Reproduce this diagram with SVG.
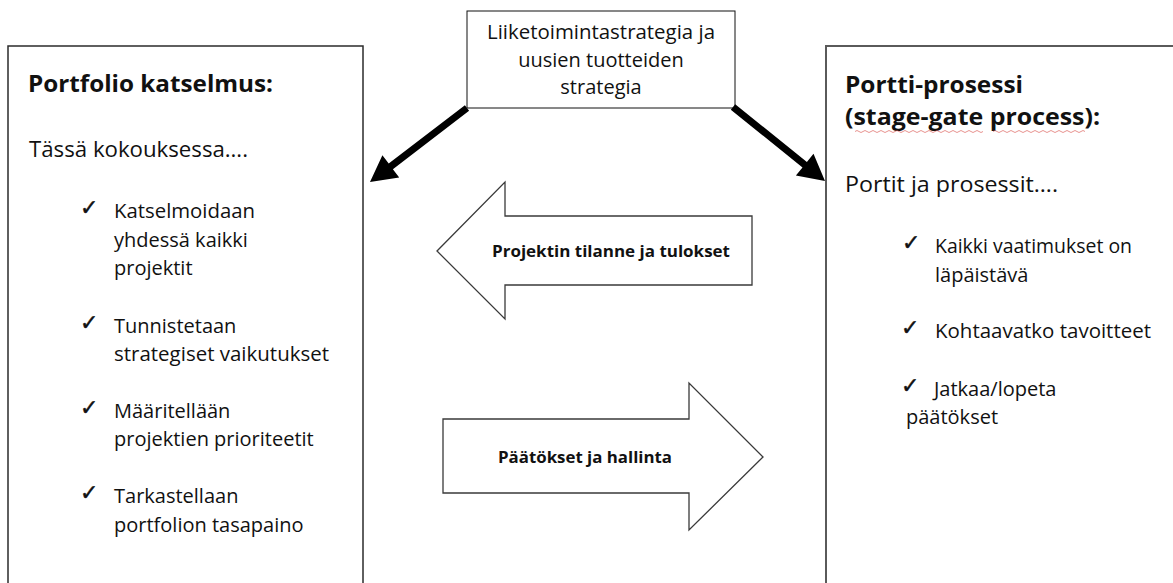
<svg xmlns="http://www.w3.org/2000/svg" width="1173" height="583" viewBox="0 0 1173 583">
  <style>
    text { font-family: "Open Sans", "Liberation Sans", sans-serif; fill: #111; }
    .h { font-weight: bold; font-size: 24px; }
    .lead { font-size: 21px; }
    .item { font-size: 20px; }
    .top { font-size: 20px; text-anchor: middle; }
    .lbl { font-weight: bold; font-size: 16.5px; }
    .chk { font-family: "DejaVu Sans", sans-serif; font-size: 22px; stroke: #111; stroke-width: 0.5; }
    .box { fill: #fff; }
    .flow { fill: #fff; stroke: #3a3a3a; stroke-width: 1.3; stroke-linejoin: miter; }
    .thick { fill: #000; }
    .spell { fill: none; stroke: #d9534f; stroke-width: 0.8; opacity: 0.8; }
  </style>

  <rect width="1173" height="583" fill="#fff"/>

  <!-- Portfolio review panel -->
  <g id="portfolio">
    <rect class="box" x="8" y="46" width="355" height="560" stroke="#2b2b2b" stroke-width="1.5"/>
    <text class="h" x="28" y="92" textLength="245" lengthAdjust="spacingAndGlyphs">Portfolio katselmus:</text>
    <text class="lead" x="29" y="157" textLength="219" lengthAdjust="spacingAndGlyphs">Tässä kokouksessa….</text>

    <text class="chk" x="80" y="215">✓</text>
    <text class="item" x="114" y="218" textLength="141" lengthAdjust="spacingAndGlyphs">Katselmoidaan</text>
    <text class="item" x="114" y="247">yhdessä kaikki</text>
    <text class="item" x="114" y="275">projektit</text>

    <text class="chk" x="80" y="330">✓</text>
    <text class="item" x="114" y="333">Tunnistetaan</text>
    <text class="item" x="114" y="361" textLength="215" lengthAdjust="spacingAndGlyphs">strategiset vaikutukset</text>

    <text class="chk" x="80" y="415">✓</text>
    <text class="item" x="114" y="418">Määritellään</text>
    <text class="item" x="114" y="446">projektien prioriteetit</text>

    <text class="chk" x="80" y="500">✓</text>
    <text class="item" x="114" y="503">Tarkastellaan</text>
    <text class="item" x="114" y="532">portfolion tasapaino</text>
  </g>

  <!-- Strategy source box -->
  <g id="strategy">
    <rect class="box" x="467" y="11" width="268" height="97" stroke="#111" stroke-width="1"/>
    <text class="top" x="601" y="39" textLength="228" lengthAdjust="spacingAndGlyphs">Liiketoimintastrategia ja</text>
    <text class="top" x="601" y="67">uusien tuotteiden</text>
    <text class="top" x="601" y="94">strategia</text>
  </g>

  <!-- Stage-gate panel -->
  <g id="stagegate">
    <rect class="box" x="826" y="46" width="360" height="560" stroke="#5a5a5a" stroke-width="2"/>
    <text class="h" x="845" y="93" textLength="178" lengthAdjust="spacingAndGlyphs">Portti-prosessi</text>
    <text class="h" x="845" y="125" textLength="255" lengthAdjust="spacingAndGlyphs">(stage-gate process):</text>
    <path class="spell" d="M855 131.5 q2 -2 4 0 t4 0 t4 0 t4 0 t4 0 t4 0 t4 0 t4 0 t4 0 t4 0 t4 0 t4 0 t4 0 t4 0 t4 0 t4 0 t4 0 t4 0 t4 0 t4 0 t4 0 t4 0 t4 0 t4 0 t4 0 t4 0 t4 0 t4 0 t4 0 t4 0 t4 0 t4 0"/>
    <path class="spell" d="M993 131.5 q2 -2 4 0 t4 0 t4 0 t4 0 t4 0 t4 0 t4 0 t4 0 t4 0 t4 0 t4 0 t4 0 t4 0 t4 0 t4 0 t4 0 t4 0 t4 0 t4 0 t4 0 t4 0 t4 0 t4 0"/>
    <text class="lead" x="845" y="192" textLength="213" lengthAdjust="spacingAndGlyphs">Portit ja prosessit….</text>

    <text class="chk" x="902" y="250">✓</text>
    <text class="item" x="935" y="253" textLength="197" lengthAdjust="spacingAndGlyphs">Kaikki vaatimukset on</text>
    <text class="item" x="935" y="282">läpäistävä</text>

    <text class="chk" x="901" y="335">✓</text>
    <text class="item" x="935" y="338" textLength="216" lengthAdjust="spacingAndGlyphs">Kohtaavatko tavoitteet</text>

    <text class="chk" x="901" y="393">✓</text>
    <text class="item" x="934" y="396">Jatkaa/lopeta</text>
    <text class="item" x="906" y="424">päätökset</text>
  </g>

  <!-- Connectors -->
  <g id="connectors">
    <!-- strategy feeds both panels -->
    <polygon class="thick" points="464.9,105.2 388.7,163.6 382.4,155.2 370,182 399.2,177.6 392.9,169.2 469.1,110.8"/>
    <polygon class="thick" points="735.2,104.3 806.9,162.0 813.5,153.8 825,181 795.9,175.6 802.5,167.4 730.8,109.7"/>

    <!-- status back to portfolio -->
    <g id="status-flow">
      <polygon class="flow" points="437,251 505,182 505,216 752,216 752,285 505,285 505,319"/>
      <text class="lbl" x="492" y="257" textLength="238" lengthAdjust="spacingAndGlyphs">Projektin tilanne ja tulokset</text>
    </g>

    <!-- decisions forward to the gates -->
    <g id="decision-flow">
      <polygon class="flow" points="443,419 689,419 689,383 763,457 689,530 689,493 443,493"/>
      <text class="lbl" x="498" y="463" textLength="174" lengthAdjust="spacingAndGlyphs">Päätökset ja hallinta</text>
    </g>
  </g>
</svg>
